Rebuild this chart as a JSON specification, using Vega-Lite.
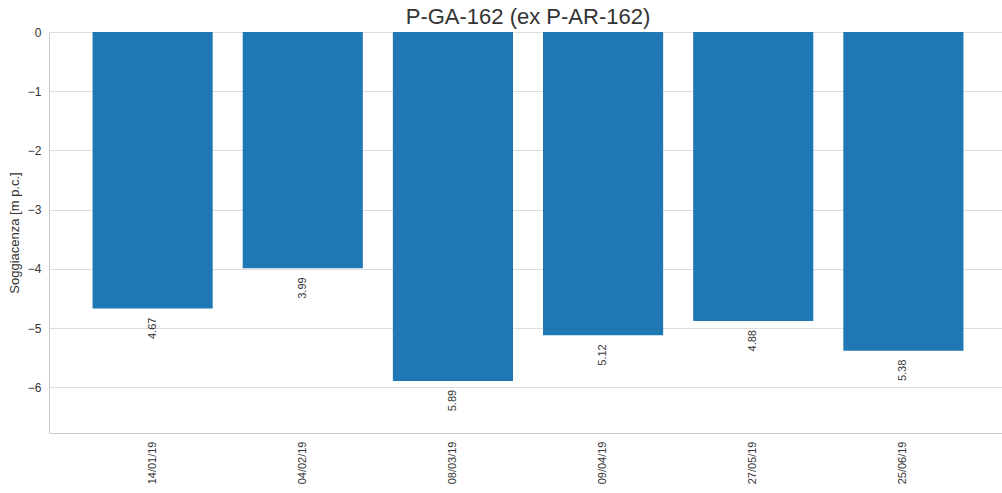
{
  "$schema": "https://vega.github.io/schema/vega-lite/v6.json",
  "autosize": {"type": "none"},
  "padding": {"left": 49, "top": 32, "right": 0, "bottom": 60},
  "width": 958,
  "height": 401,
  "background": "white",
  "config": {
    "font": "Liberation Sans",
    "view": {"stroke": null},
    "axis": {"labelColor": "#333", "titleColor": "#333", "labelFont": "Liberation Sans", "titleFont": "Liberation Sans", "ticks": false, "domainColor": "#cccccc", "gridColor": "#dddddd", "titleFontWeight": "normal"}
  },
  "title": {"text": "P-GA-162 (ex P-AR-162)", "fontSize": 22, "fontWeight": "normal", "color": "#333", "font": "Liberation Sans", "anchor": "middle", "offset": -3},
  "data": {"values": [
    {"data": "14/01/19", "soggiacenza": -4.67, "profondita": 4.67},
    {"data": "04/02/19", "soggiacenza": -3.99, "profondita": 3.99},
    {"data": "08/03/19", "soggiacenza": -5.89, "profondita": 5.89},
    {"data": "09/04/19", "soggiacenza": -5.12, "profondita": 5.12},
    {"data": "27/05/19", "soggiacenza": -4.88, "profondita": 4.88},
    {"data": "25/06/19", "soggiacenza": -5.38, "profondita": 5.38}
  ]},
  "encoding": {
    "x": {"field": "data", "type": "nominal", "sort": null,
      "scale": {"paddingInner": 0.2, "paddingOuter": 0.29},
      "axis": {"title": null, "labelAngle": 270, "labelFontSize": 11, "labelPadding": 8, "grid": false, "domain": true}},
    "y": {"field": "soggiacenza", "type": "quantitative",
      "scale": {"domain": [-6.77, 0], "nice": false, "zero": false},
      "axis": {"title": "Soggiacenza [m p.c.]", "titleFontSize": 13, "labelFontSize": 12, "values": [0, -1, -2, -3, -4, -5, -6], "labelPadding": 8, "titlePadding": 6, "grid": true, "domain": true}}
  },
  "layer": [
    {"mark": {"type": "bar", "color": "#1f77b4"}},
    {"mark": {"type": "text", "angle": 270, "align": "right", "baseline": "middle", "yOffset": 9, "fontSize": 11, "color": "#333"},
     "encoding": {"text": {"field": "profondita", "type": "quantitative", "format": ".2f"}}}
  ]
}
